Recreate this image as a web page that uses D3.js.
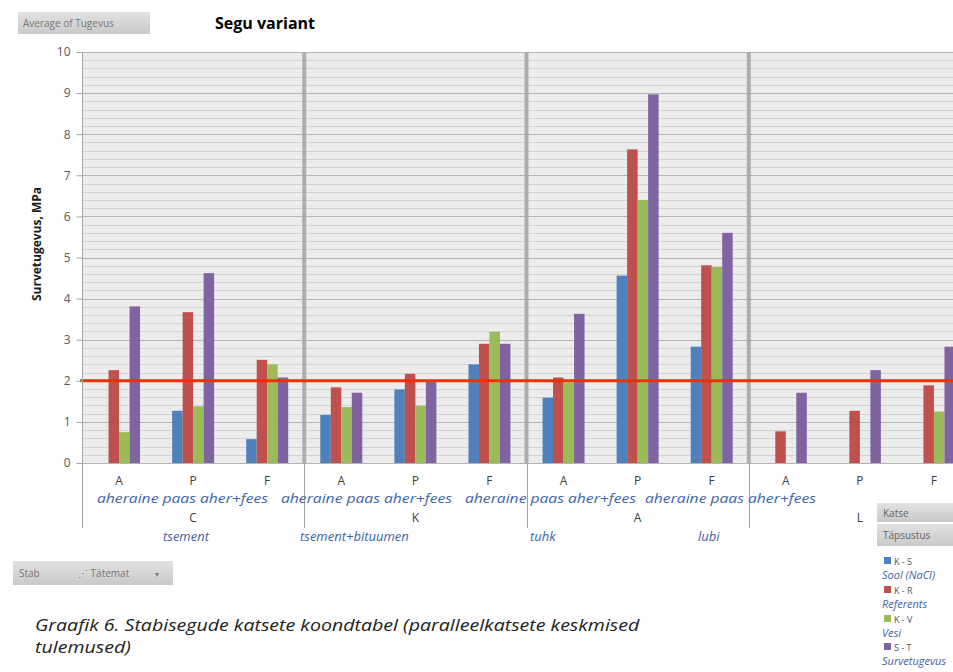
<!DOCTYPE html>
<html>
<head>
<meta charset="utf-8">
<script src="https://cdn.jsdelivr.net/npm/d3@7"></script>
<style>
  html, body { margin: 0; padding: 0; background: #ffffff; }
  svg { display: block; }
</style>
</head>
<body>
<svg id="chart" width="953" height="672"></svg>
<script>
// ---- data ----
const groups = ["C", "K", "A", "L"];
const groupNames = ["tsement", "tsement+bituumen", "tuhk", "lubi"];
const subCats = ["A", "P", "F"];
const subNames = "aheraine paas aher+fees";
const series = ["K - S", "K - R", "K - V", "S - T"];
const seriesNames = ["Sool (NaCl)", "Referents", "Vesi", "Survetugevus"];
const seriesColors = ["#4f81bd", "#c0504d", "#9bbb59", "#8064a2"];
// one value per group/sub-category: C-A, C-P, C-F, K-A, ... L-F
const valuesKS = [null, 1.27, 0.58, 1.17, 1.79, 2.40, 1.59, 4.56, 2.83, null, null, null];
const valuesKR = [2.26, 3.67, 2.51, 1.84, 2.17, 2.90, 2.08, 7.63, 4.81, 0.77, 1.27, 1.89];
const valuesKV = [0.75, 1.38, 2.40, 1.36, 1.39, 3.19, 1.96, 6.40, 4.77, null, null, 1.25];
const valuesST = [3.81, 4.62, 2.08, 1.71, 2.00, 2.90, 3.63, 8.97, 5.60, 1.71, 2.26, 2.83];
const threshold = 2;
const yTicks = [0, 1, 2, 3, 4, 5, 6, 7, 8, 9, 10];
const yTitle = "Survetugevus, MPa";
const title = "Segu variant";
const captionLines = ["Graafik 6. Stabisegude katsete koondtabel (paralleelkatsete keskmised", "tulemused)"];

const seriesValues = [valuesKS, valuesKR, valuesKV, valuesST];
const catKeys = [];
groups.forEach(g => subCats.forEach(s => catKeys.push(g + "|" + s)));

// ---- layout ----
const svg = d3.select("#chart");
const font = "Open Sans, sans-serif";
const plotLeft = 82, plotRight = 971, plotTop = 52, plotBottom = 463;

const x = d3.scaleBand().domain(catKeys).range([plotLeft, plotRight]).padding(0);
const xGroup = d3.scaleBand().domain(groups).range([plotLeft, plotRight]).padding(0);
const bw = x.bandwidth();
const x1 = d3.scaleBand().domain(series).range([(bw - 42) / 2, (bw + 42) / 2]).padding(0);
const y = d3.scaleLinear().domain([0, 10]).range([plotBottom, plotTop]);

// plot background
svg.append("rect")
  .attr("x", plotLeft).attr("y", plotTop)
  .attr("width", plotRight - plotLeft).attr("height", plotBottom - plotTop)
  .attr("fill", "#ececec");

// minor and major gridlines
const minor = d3.range(0, 50).map(i => i * 0.2).filter(v => Math.abs(v - Math.round(v)) > 0.01);
svg.append("g").selectAll("line").data(minor).join("line")
  .attr("x1", plotLeft).attr("x2", plotRight)
  .attr("y1", d => Math.round(y(d)) + 0.5).attr("y2", d => Math.round(y(d)) + 0.5)
  .attr("stroke", "#d2d2d2").attr("stroke-width", 1);
svg.append("g").selectAll("line").data(yTicks).join("line")
  .attr("x1", plotLeft).attr("x2", plotRight)
  .attr("y1", d => Math.round(y(d)) + 0.5).attr("y2", d => Math.round(y(d)) + 0.5)
  .attr("stroke", "#b4b4b4").attr("stroke-width", 1);

// bars
const barData = [];
catKeys.forEach((k, i) => series.forEach((s, j) => {
  const v = seriesValues[j][i];
  if (v != null) barData.push({ k, s, v, c: seriesColors[j] });
}));
svg.append("g").selectAll("rect").data(barData).join("rect")
  .attr("x", d => x(d.k) + x1(d.s))
  .attr("width", x1.bandwidth())
  .attr("y", d => y(d.v))
  .attr("height", d => y(0) - y(d.v))
  .attr("fill", d => d.c);

// group separators
svg.append("g").selectAll("line").data(groups.slice(1)).join("line")
  .attr("x1", d => xGroup(d)).attr("x2", d => xGroup(d))
  .attr("y1", plotTop).attr("y2", plotBottom)
  .attr("stroke", "#adadad").attr("stroke-width", 4);
svg.append("g").selectAll("line").data(groups).join("line")
  .attr("x1", d => Math.round(xGroup(d)) + 0.5).attr("x2", d => Math.round(xGroup(d)) + 0.5)
  .attr("y1", plotBottom).attr("y2", 528)
  .attr("stroke", "#a6a6a6").attr("stroke-width", 1);

// threshold line
svg.append("line")
  .attr("x1", plotLeft - 2).attr("x2", 953)
  .attr("y1", y(threshold)).attr("y2", y(threshold))
  .attr("stroke", "#ff2a0a").attr("stroke-width", 3);

// y axis
const yAxis = svg.append("g")
  .attr("transform", `translate(${plotLeft + 0.5},0)`)
  .call(d3.axisLeft(y).tickValues(yTicks).tickSize(6).tickPadding(6).tickFormat(d3.format("d")));
yAxis.select(".domain").attr("stroke", "#a6a6a6").attr("d", `M0,${plotTop}V${plotBottom}`);
yAxis.selectAll(".tick line").attr("stroke", "#a6a6a6");
yAxis.selectAll(".tick text")
  .attr("fill", "#595959").attr("font-family", font).attr("font-size", 12);

svg.append("text")
  .attr("transform", `translate(41,244) rotate(-90)`)
  .attr("text-anchor", "middle")
  .attr("font-family", font).attr("font-weight", "bold").attr("font-size", 12)
  .attr("fill", "#1a1a1a")
  .text(yTitle);

// category labels
svg.append("g").selectAll("text").data(catKeys).join("text")
  .attr("x", d => x(d) + bw / 2).attr("y", 485)
  .attr("text-anchor", "middle").attr("font-family", font).attr("font-size", 12)
  .attr("fill", "#404040")
  .text(d => d.split("|")[1]);

// sub-category description row
const subRowX = [97, 281, 465, 645];
svg.append("g").selectAll("text").data(subRowX).join("text")
  .attr("x", d => d).attr("y", 503)
  .attr("font-family", font).attr("font-style", "italic").attr("font-size", 12)
  .attr("fill", "#3d63a8").attr("textLength", 171).attr("lengthAdjust", "spacingAndGlyphs")
  .text(subNames);

// group letters
svg.append("g").selectAll("text").data(groups).join("text")
  .attr("x", d => xGroup(d) + xGroup.bandwidth() / 2).attr("y", 522)
  .attr("text-anchor", "middle").attr("font-family", font).attr("font-size", 12)
  .attr("fill", "#404040")
  .text(d => d);

// group names
const groupNameX = [163, 300, 530, 698];
svg.append("g").selectAll("text").data(groupNames).join("text")
  .attr("x", (d, i) => groupNameX[i]).attr("y", 541)
  .attr("font-family", font).attr("font-style", "italic").attr("font-size", 13)
  .attr("fill", "#3d63a8")
  .text(d => d);

// title and field button
svg.append("text")
  .attr("x", 215).attr("y", 29)
  .attr("font-family", font).attr("font-weight", "bold").attr("font-size", 16)
  .attr("fill", "#000").text(title);

const defs = svg.append("defs");
const grad = defs.append("linearGradient").attr("id", "btn").attr("x1", 0).attr("x2", 0).attr("y1", 0).attr("y2", 1);
grad.append("stop").attr("offset", "0%").attr("stop-color", "#e2e2e2");
grad.append("stop").attr("offset", "100%").attr("stop-color", "#c9c9c9");

svg.append("rect").attr("x", 18).attr("y", 12).attr("width", 132).attr("height", 22)
  .attr("fill", "url(#btn)");
svg.append("text").attr("x", 23).attr("y", 27)
  .attr("font-family", font).attr("font-size", 10).attr("fill", "#777")
  .text("Average of Tugevus");

// filter buttons at bottom left
svg.append("rect").attr("x", 13).attr("y", 561).attr("width", 160).attr("height", 24)
  .attr("fill", "url(#btn)");
svg.append("text").attr("x", 19).attr("y", 577)
  .attr("font-family", font).attr("font-size", 10).attr("fill", "#777").text("Stab");
svg.append("text").attr("x", 78).attr("y", 577)
  .attr("font-family", font).attr("font-size", 10).attr("fill", "#777").text("⋰ Tätemat");
svg.append("text").attr("x", 155).attr("y", 577)
  .attr("font-family", font).attr("font-size", 8).attr("fill", "#777").text("▾");

// legend panel
svg.append("rect").attr("x", 877).attr("y", 503).attr("width", 80).attr("height", 19).attr("fill", "url(#btn)");
svg.append("rect").attr("x", 877).attr("y", 524).attr("width", 80).attr("height", 22).attr("fill", "url(#btn)");
svg.append("text").attr("x", 883).attr("y", 517)
  .attr("font-family", font).attr("font-size", 10).attr("fill", "#666").text("Katse");
svg.append("text").attr("x", 883).attr("y", 539)
  .attr("font-family", font).attr("font-size", 10).attr("fill", "#666").text("Täpsustus");

const legendY = [557, 586, 615, 643];
const legend = svg.append("g").selectAll("g").data(series).join("g")
  .attr("transform", (d, i) => `translate(884,${legendY[i]})`);
legend.append("rect").attr("width", 7).attr("height", 7).attr("fill", (d, i) => seriesColors[i]);
legend.append("text").attr("x", 10).attr("y", 7.5)
  .attr("font-family", font).attr("font-size", 9).attr("fill", "#555").text(d => d);
legend.append("text").attr("x", -2).attr("y", 22)
  .attr("font-family", font).attr("font-style", "italic").attr("font-size", 11)
  .attr("fill", "#3d63a8").text((d, i) => seriesNames[i]);

// caption
const cap = svg.append("g").attr("font-family", font).attr("font-style", "italic")
  .attr("font-size", 16).attr("fill", "#222");
const capLines = cap.selectAll("text").data(captionLines).join("text")
  .attr("x", 0).attr("y", (d, i) => i * 22)
  .text(d => d);
const natural = capLines.node().getComputedTextLength();
cap.attr("transform", `translate(35,631) scale(${605 / natural},1)`);
</script>
</body>
</html>
